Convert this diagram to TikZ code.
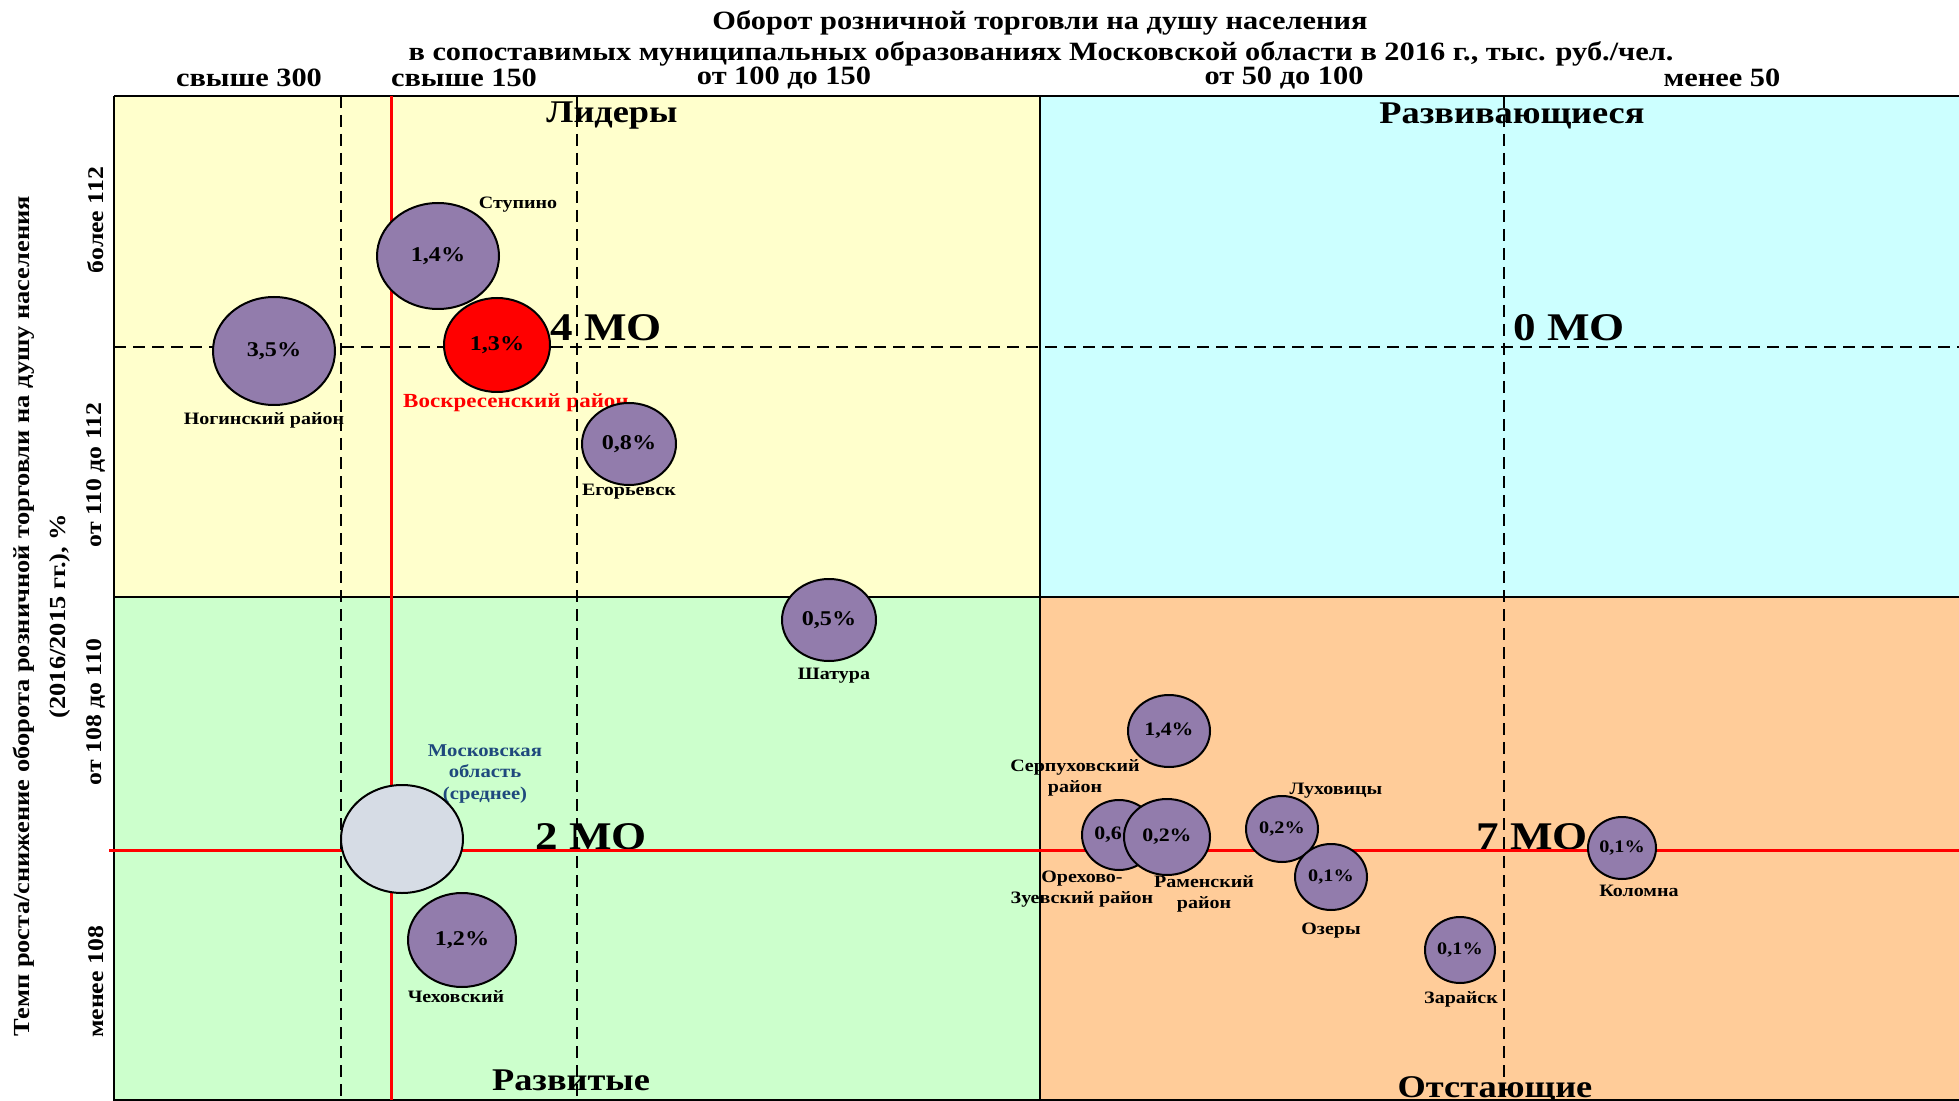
\documentclass[tikz,border=0pt]{standalone}
\usepackage{fontspec}
\setmainfont{Liberation Serif}[FakeStretch=1.15]
\usetikzlibrary{shapes.geometric}

\definecolor{leadfill}{RGB}{255,255,204}
\definecolor{growfill}{RGB}{204,255,255}
\definecolor{devfill}{RGB}{204,255,204}
\definecolor{lagfill}{RGB}{255,204,153}
\definecolor{bubfill}{RGB}{146,124,172}
\definecolor{avgfill}{RGB}{214,220,229}
\definecolor{avgtext}{RGB}{31,73,125}

\begin{document}
\begin{tikzpicture}[x=0.5pt,y=-0.5pt,
	bubble/.style={ellipse,draw=black,line width=1pt,fill=bubfill,inner sep=0pt,font=\bfseries\fontsize{10.5}{12}\selectfont},
	smallbub/.style={bubble,font=\bfseries\fontsize{8.8}{10}\selectfont},
	tag/.style={inner sep=0pt,align=center,font=\bfseries\fontsize{8.7}{10.5}\selectfont},
	quadtitle/.style={inner sep=0pt,font=\bfseries\fontsize{15.8}{18}\selectfont},
	mocount/.style={inner sep=0pt,font=\bfseries\fontsize{19.6}{22}\selectfont},
	headline/.style={inner sep=0pt,font=\bfseries\fontsize{13.2}{16}\selectfont},
	rowlabel/.style={inner sep=0pt,rotate=90,font=\bfseries\fontsize{11.2}{13}\selectfont},
	guide/.style={dash pattern=on 6pt off 3.5pt,line width=0.7pt},
	avgline/.style={color=red,line width=1.5pt}]
	\useasboundingbox (0,0) rectangle (1959,1101);
	% quadrants
	\fill[leadfill] (114,96) rectangle (1040,597);
	\fill[growfill] (1040,96) rectangle (1959,597);
	\fill[devfill] (114,597) rectangle (1040,1100);
	\fill[lagfill] (1040,597) rectangle (1959,1100);
	% headings
	\node[headline] (title1) at (1040,23) {Оборот розничной торговли на душу населения};
	\node[headline] (title2) at (1041,54) {в сопоставимых муниципальных образованиях Московской области в 2016 г., тыс. руб./чел.};
	\node[headline] (col1) at (249,78) {свыше 300};
	\node[headline] (col2) at (464,78) {свыше 150};
	\node[headline] (col3) at (784,78) {от 100 до 150};
	\node[headline] (col4) at (1284,78) {от 50 до 100};
	\node[headline] (col5) at (1722,78) {менее 50};
	\node[rotate=90,inner sep=0pt,align=center,font=\bfseries\fontsize{11.5}{18}\selectfont] (axis) at (42,616) {Темп роста/снижение оборота розничной торговли на душу населения\\(2016/2015 гг.), \%};
	\node[rowlabel] (row1) at (96,220) {более 112};
	\node[rowlabel] (row2) at (96,475) {от 110 до 112};
	\node[rowlabel] (row3) at (96,712) {от 108 до 110};
	\node[rowlabel] (row4) at (96,982) {менее 108};
	\node[quadtitle] (lead) at (612,116) {Лидеры};
	\node[quadtitle] (grow) at (1512,116) {Развивающиеся};
	\node[quadtitle] (dev) at (571,1080) {Развитые};
	\node[quadtitle] (lag) at (1495,1090) {Отстающие};
	\node[mocount] (mo4) at (606,328) {4 МО};
	\node[mocount] (mo0) at (1569,328) {0 МО};
	\node[mocount] (mo2) at (591,837) {2 МО};
	\node[mocount] (mo7) at (1532,837) {7 МО};
	% names
	\node[tag] (nogname) at (264,420) {Ногинский район};
	\node[tag] (stupname) at (518,205) {Ступино};
	\node[tag,color=red,font=\bfseries\fontsize{10}{12}\selectfont] (voskrname) at (516,403) {Воскресенский район};
	\node[tag] (egorname) at (629,492) {Егорьевск};
	\node[tag] (shatname) at (834,676) {Шатура};
	\node[tag,color=avgtext,font=\bfseries\fontsize{9}{10.6}\selectfont] (mosname) at (485,774) {Московская\\область\\(среднее)};
	\node[tag] (chekhname) at (456,997) {Чеховский};
	\node[tag] (serpname) at (1075,778) {Серпуховский\\район};
	\node[tag] (orekhname) at (1082,889) {Орехово-\\Зуевский район};
	\node[tag] (ramenname) at (1204,894) {Раменский\\район};
	\node[tag] (lukhname) at (1336,791) {Луховицы};
	\node[tag] (ozername) at (1331,931) {Озеры};
	\node[tag] (zarname) at (1461,999) {Зарайск};
	\node[tag] (kolomname) at (1639,891) {Коломна};
	% grid lines
	\draw[guide] (341,96) -- (341,1100);
	\draw[guide] (577,96) -- (577,1100);
	\draw[guide] (1504,96) -- (1504,1100);
	\draw[guide] (114,347) -- (1959,347);
	\draw[line width=1pt] (114,96) -- (1959,96);
	\draw[line width=1pt] (114,96) -- (114,1100) -- (1959,1100);
	\draw[line width=1pt] (1040,96) -- (1040,1100);
	\draw[line width=1pt] (114,597) -- (1959,597);
	\draw[avgline] (391,96) -- (391,1100);
	\draw[avgline] (109,850) -- (1959,850);
	% bubbles
	\node[bubble,minimum width=61pt,minimum height=54pt] (nog) at (274,351) {3,5\%};
	\node[bubble,minimum width=61pt,minimum height=53pt] (stup) at (438,256) {1,4\%};
	\node[bubble,fill=red,minimum width=53pt,minimum height=47pt] (voskr) at (497,345) {1,3\%};
	\node[bubble,minimum width=47pt,minimum height=41pt] (egor) at (629,444) {0,8\%};
	\node[bubble,minimum width=47pt,minimum height=41pt] (shat) at (829,620) {0,5\%};
	\node[bubble,fill=avgfill,minimum width=61pt,minimum height=54pt] (mosobl) at (402,839) {};
	\node[bubble,minimum width=54pt,minimum height=47pt] (chekh) at (462,940) {1,2\%};
	\node[smallbub,font=\bfseries\fontsize{9.5}{11}\selectfont,minimum width=41pt,minimum height=36pt] (serp) at (1169,731) {1,4\%};
	\node[smallbub,font=\bfseries\fontsize{9.5}{11}\selectfont,minimum width=37pt,minimum height=35pt] (orekh) at (1119,835) {0,6\%};
	\node[smallbub,font=\bfseries\fontsize{9.5}{11}\selectfont,minimum width=43pt,minimum height=38pt] (ramen) at (1167,837) {0,2\%};
	\node[smallbub,minimum width=36pt,minimum height=33pt] (lukh) at (1282,829) {0,2\%};
	\node[smallbub,minimum width=36pt,minimum height=33pt] (ozer) at (1331,877) {0,1\%};
	\node[smallbub,minimum width=35pt,minimum height=33pt] (zar) at (1460,950) {0,1\%};
	\node[smallbub,minimum width=34pt,minimum height=31pt] (kolom) at (1622,848) {0,1\%};
\end{tikzpicture}
\end{document}
